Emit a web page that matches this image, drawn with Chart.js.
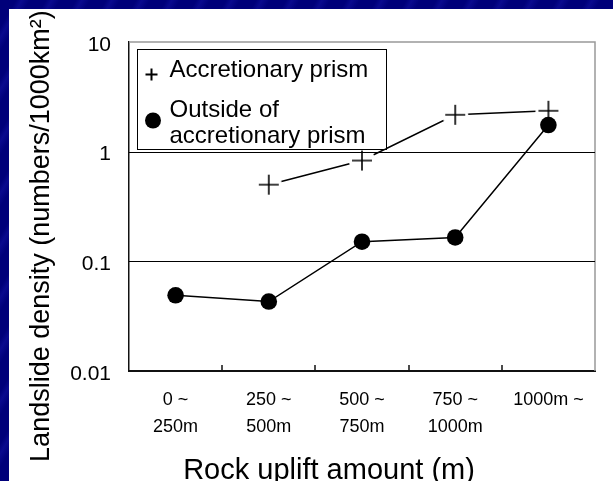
<!DOCTYPE html>
<html>
<head>
<meta charset="utf-8">
<script src="https://cdn.jsdelivr.net/npm/chart.js@4.4.0/dist/chart.umd.min.js"></script>
<style>
  html, body { margin: 0; padding: 0; }
  body {
    width: 613px; height: 481px; overflow: hidden;
    background: repeating-linear-gradient(120deg, #00007a 0px, #00007a 14px, #0a0a8e 19px, #00007a 26px);
  }
  #wrap { position: absolute; left: 9px; top: 9px; width: 604px; height: 472px; background: #fff; }
</style>
</head>
<body>
<div id="wrap"><canvas id="landslideChart"></canvas></div>
<script>
// Uplift classes on the x axis
const categories = [['0 ~', '250m'], ['250 ~', '500m'], ['500 ~', '750m'], ['750 ~', '1000m'], ['1000m ~']];

// Landslide density (numbers/1000km2)
const accretionary = [null, 0.5, 0.83, 2.17, 2.36];
const outside = [0.049, 0.043, 0.151, 0.165, 1.75];

const yTickValues = [0.01, 0.1, 1, 10];
const yTickLabels = ['0.01', '0.1', '1', '10'];
const gridValues = [0.1, 1];

const legendLines = [['Accretionary prism'], ['Outside of', 'accretionary prism']];
const xTitle = 'Rock uplift amount (m)';
const yTitle = 'Landslide density (numbers/1000km\u00B2)';

const FONT = 'Liberation Sans, Arial, sans-serif';

// plus marker with a white halo so the line stops short of it
function makePlusMarker() {
    const c = document.createElement('canvas');
    c.width = 28;
    c.height = 28;
    const g = c.getContext('2d');
    g.fillStyle = '#fff';
    g.beginPath();
    g.arc(14, 14, 13, 0, Math.PI * 2);
    g.fill();
    g.strokeStyle = '#000';
    g.lineWidth = 1.6;
    g.beginPath();
    g.moveTo(4, 14); g.lineTo(24, 14);
    g.moveTo(14, 4); g.lineTo(14, 24);
    g.stroke();
    return c;
}

const framePlugin = {
    id: 'frame',
    beforeDatasetsDraw(chart) {
        const { ctx, chartArea: a, scales: { x } } = chart;
        ctx.save();
        // grey top and right border
        ctx.strokeStyle = '#999';
        ctx.lineWidth = 1.5;
        ctx.beginPath();
        ctx.moveTo(a.left, a.top);
        ctx.lineTo(a.right, a.top);
        ctx.lineTo(a.right, a.bottom);
        ctx.stroke();
        // inward ticks between categories
        ctx.strokeStyle = '#111';
        ctx.lineWidth = 1.5;
        ctx.beginPath();
        for (let i = 1; i < categories.length; i++) {
            const px = Math.round((x.getPixelForTick(i - 1) + x.getPixelForTick(i)) / 2);
            ctx.moveTo(px, a.bottom);
            ctx.lineTo(px, a.bottom - 6);
        }
        ctx.stroke();
        ctx.restore();
    },
    afterDatasetsDraw(chart) {
        const { ctx, chartArea: a, scales: { y } } = chart;
        ctx.save();
        // horizontal grid lines
        ctx.strokeStyle = '#000';
        ctx.lineWidth = 1;
        ctx.beginPath();
        gridValues.forEach(v => {
            const py = Math.round(y.getPixelForValue(v)) + 0.5;
            ctx.moveTo(a.left, py);
            ctx.lineTo(a.right, py);
        });
        ctx.stroke();

        // legend box
        const bx = a.left + 7.5, by = a.top + 6.5, bw = 249, bh = 100;
        ctx.fillStyle = '#fff';
        ctx.fillRect(bx, by, bw, bh);
        ctx.strokeStyle = '#000';
        ctx.lineWidth = 1;
        ctx.strokeRect(Math.round(bx) + 0.5, Math.round(by) + 0.5, bw, bh);

        ctx.fillStyle = '#000';
        ctx.font = '24px ' + FONT;
        ctx.textAlign = 'left';
        ctx.textBaseline = 'alphabetic';
        // entry 1: plus
        ctx.lineWidth = 2;
        ctx.beginPath();
        ctx.moveTo(bx + 9, by + 26); ctx.lineTo(bx + 21, by + 26);
        ctx.moveTo(bx + 15, by + 20); ctx.lineTo(bx + 15, by + 32);
        ctx.stroke();
        ctx.fillText(legendLines[0][0], bx + 33, by + 28);
        // entry 2: filled circle
        ctx.beginPath();
        ctx.arc(bx + 16.5, by + 72, 8, 0, Math.PI * 2);
        ctx.fill();
        ctx.fillText(legendLines[1][0], bx + 33, by + 68.5);
        ctx.fillText(legendLines[1][1], bx + 33, by + 94.5);

        // x title, set a little left of the plot centre as in the slide
        ctx.font = '29px ' + FONT;
        ctx.textAlign = 'center';
        ctx.fillText(xTitle, (a.left + a.right) / 2 - 33, chart.height - 2);

        // rotated y title
        ctx.translate(33, chart.height * 0.481);
        ctx.rotate(-Math.PI / 2);
        ctx.textAlign = 'center';
        ctx.textBaseline = 'middle';
        ctx.font = '27px ' + FONT;
        ctx.fillText(yTitle, 0, 0);
        ctx.restore();
    }
};

const ctx = document.getElementById('landslideChart');
new Chart(ctx, {
    type: 'line',
    data: {
        labels: categories,
        datasets: [{
            label: legendLines[0].join(' '),
            data: accretionary,
            borderColor: '#000',
            borderWidth: 1.5,
            pointStyle: makePlusMarker(),
            pointRadius: 14,
            order: 1
        }, {
            label: legendLines[1].join(' '),
            data: outside,
            borderColor: '#000',
            backgroundColor: '#000',
            borderWidth: 1.5,
            pointStyle: 'circle',
            pointRadius: 8.3,
            pointBorderWidth: 0,
            order: 0
        }]
    },
    options: {
        responsive: true,
        maintainAspectRatio: false,
        animation: false,
        layout: { padding: { top: 33, right: 18, left: 0, bottom: 0 } },
        plugins: {
            legend: { display: false },
            tooltip: { enabled: false }
        },
        scales: {
            x: {
                offset: true,
                grid: { display: false },
                border: { color: '#111', width: 2 },
                ticks: {
                    color: '#000',
                    padding: 8,
                    maxRotation: 0,
                    autoSkip: false,
                    font: { family: FONT, size: 18, lineHeight: 1.5 }
                },
                afterFit: s => { s.height = 110; }
            },
            y: {
                type: 'logarithmic',
                min: 0.01,
                max: 10,
                grid: { display: false },
                border: { color: '#111', width: 1.5 },
                afterBuildTicks: s => { s.ticks = yTickValues.map(v => ({ value: v })); },
                ticks: {
                    color: '#000',
                    padding: 10,
                    labelOffset: 3,
                    font: { family: FONT, size: 21 },
                    callback: (v, i) => yTickLabels[i]
                },
                afterFit: s => { s.width = 120; }
            }
        }
    },
    plugins: [framePlugin]
});
</script>
</body>
</html>
